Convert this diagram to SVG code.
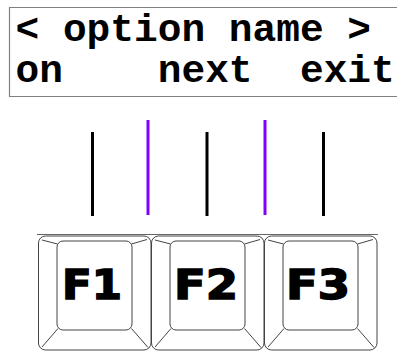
<svg xmlns="http://www.w3.org/2000/svg" width="397" height="351" viewBox="0 0 397 351">
<style>
.lcd{font-family:"Liberation Mono","Courier New",monospace;font-weight:bold;font-size:39.5px;fill:#000;white-space:pre}
.frame{fill:none;stroke:#808080;stroke-width:1.2}
.key{fill:#fff;stroke:#444;stroke-width:1}
.bevel{fill:none;stroke:#444;stroke-width:1}
.klabel{font-family:"DejaVu Sans",sans-serif;font-weight:bold;font-size:40px;fill:#000;stroke:#000;stroke-width:1.5;stroke-linejoin:miter}
.blk{stroke:#000;stroke-width:3}
.pur{stroke:#8000ff;stroke-width:3}
</style>
<rect width="397" height="351" fill="#fff"/>
<g id="display">
<path class="frame" d="M400,7.5 H9.5 V96.5 H400"/>
<text class="lcd" x="15.5" y="41" xml:space="preserve">&lt; option name &gt;</text>
<text class="lcd" x="15.5" y="82" xml:space="preserve">on    next  exit</text>
</g>
<g id="connectors">
<line class="blk" x1="92.5" y1="132" x2="92.5" y2="216"/>
<line class="pur" x1="148" y1="120" x2="148" y2="215"/>
<line class="blk" x1="207" y1="132" x2="207" y2="216"/>
<line class="pur" x1="265" y1="120" x2="265" y2="215"/>
<line class="blk" x1="323.5" y1="132" x2="323.5" y2="216"/>
</g>
<line x1="37" y1="234.5" x2="378" y2="234.5" stroke="#666" stroke-width="1.2"/>
<g id="keyF1">
<rect class="key" x="38.5" y="236" width="112.5" height="114" rx="7"/>
<rect class="key" x="57" y="241" width="75" height="89" rx="6"/>
<path class="bevel" d="M42,240 L57.5,244 M42,347 L58,328.5 M147,239.5 L131.5,244 M148,347.5 L131.5,328.5"/>
<text class="klabel" x="92" y="299" text-anchor="middle" textLength="60" lengthAdjust="spacingAndGlyphs">F1</text>
</g>
<g id="keyF2">
<rect class="key" x="151.5" y="236" width="112.5" height="114" rx="7"/>
<rect class="key" x="170" y="241" width="75" height="89" rx="6"/>
<path class="bevel" d="M155,240 L170.5,244 M155,347 L171,328.5 M260,239.5 L244.5,244 M261,347.5 L244.5,328.5"/>
<text class="klabel" x="206" y="299" text-anchor="middle" textLength="64" lengthAdjust="spacingAndGlyphs">F2</text>
</g>
<g id="keyF3">
<rect class="key" x="264.5" y="236" width="112.5" height="114" rx="7"/>
<rect class="key" x="283" y="241" width="75" height="89" rx="6"/>
<path class="bevel" d="M268,240 L283.5,244 M268,347 L284,328.5 M373,239.5 L357.5,244 M374,347.5 L357.5,328.5"/>
<text class="klabel" x="318" y="299" text-anchor="middle" textLength="64" lengthAdjust="spacingAndGlyphs">F3</text>
</g>
</svg>
